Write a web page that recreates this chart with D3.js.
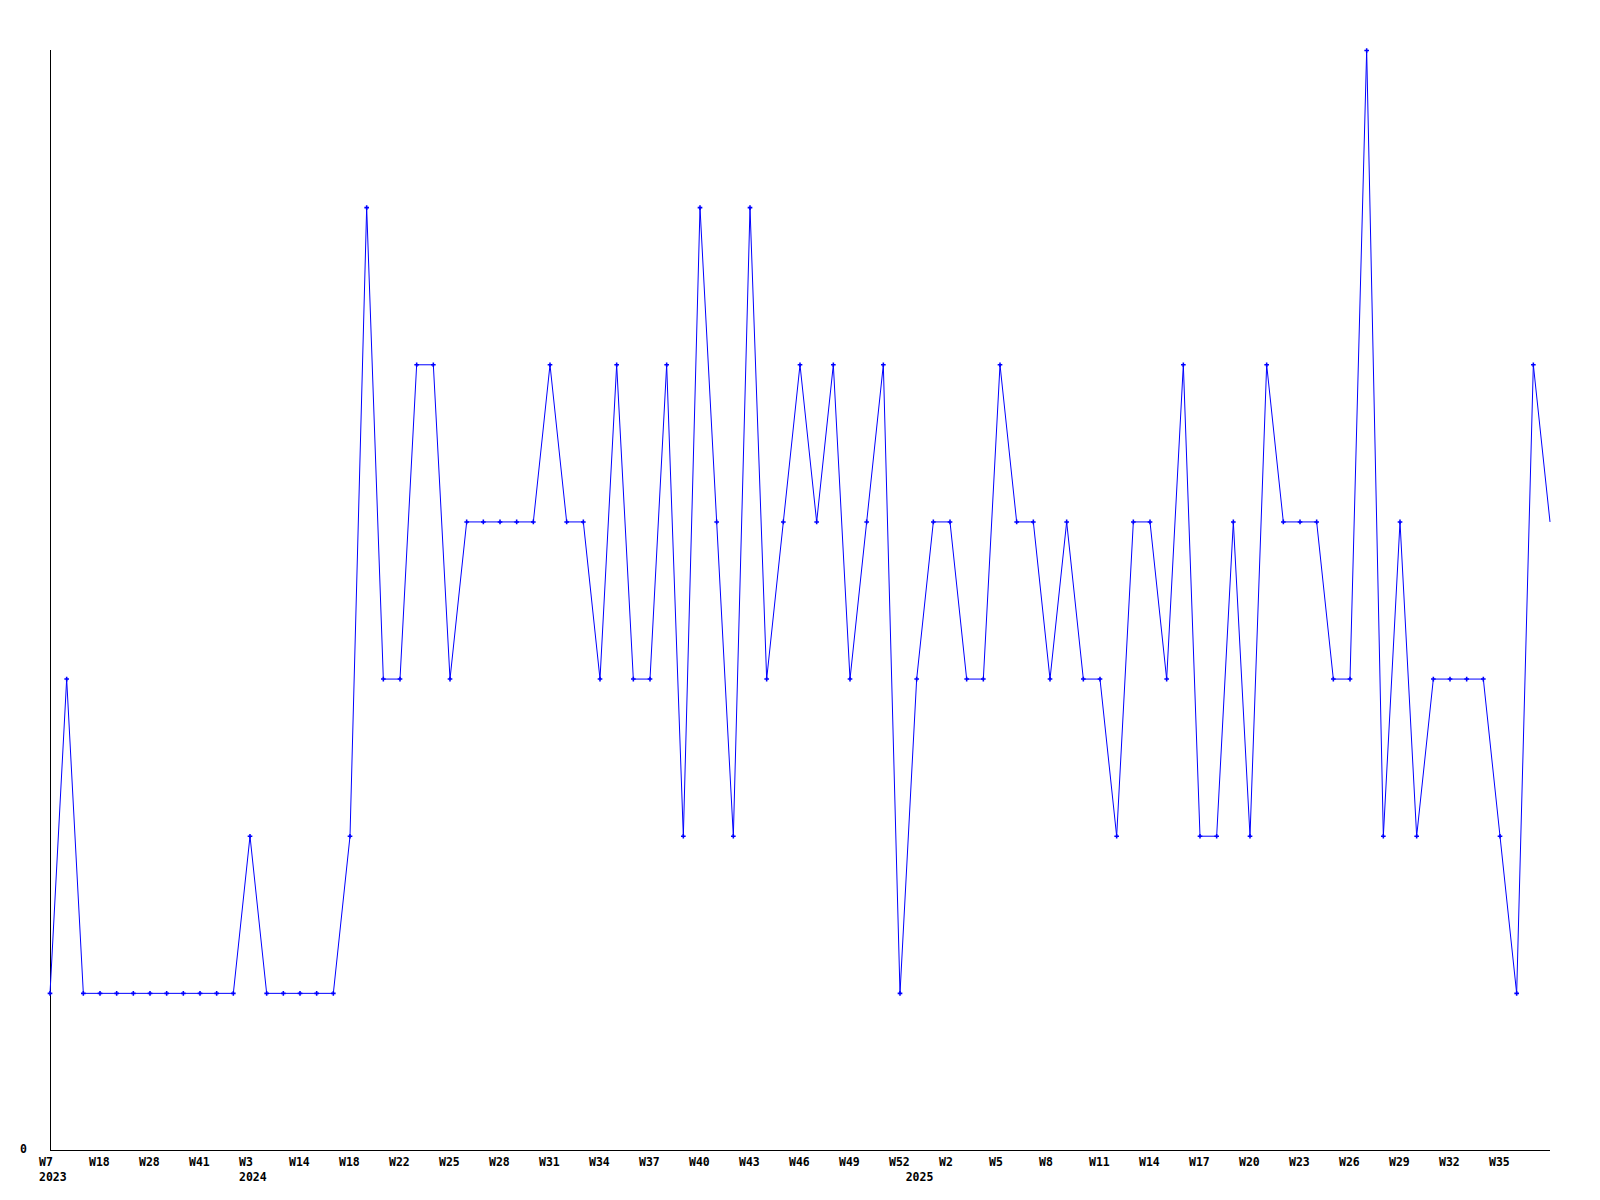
<!DOCTYPE html>
<html>
<head>
<meta charset="utf-8">
<script src="https://cdn.jsdelivr.net/npm/d3@7"></script>
<style>
  body { margin: 0; background: #fff; }
  text { font-family: "DejaVu Sans Mono", monospace; font-weight: bold; font-size: 11.5px; fill: #000; }
</style>
</head>
<body>
<div id="main"></div>
<script>
var ctx = {
    w: 1600,
    h: 1200,
    left: 50,
    right: 1550,
    top: 50,
    bottom: 1150,
};

// weekly counts, one per point
var values = [1, 3, 1, 1, 1, 1, 1, 1, 1, 1, 1, 1, 2, 1, 1, 1, 1, 1, 2, 6,
              3, 3, 5, 5, 3, 4, 4, 4, 4, 4, 5, 4, 4, 3, 5, 3, 3, 5, 2, 6,
              4, 2, 6, 3, 4, 5, 4, 5, 3, 4, 5, 1, 3, 4, 4, 3, 3, 5, 4, 4,
              3, 4, 3, 3, 2, 4, 4, 3, 5, 2, 2, 4, 2, 5, 4, 4, 4, 3, 3, 7,
              2, 4, 2, 3, 3, 3, 3, 2, 1, 5, 4];

// week labels (every third point)
var weekTickIdx = [0, 3, 6, 9, 12, 15, 18, 21, 24, 27, 30, 33, 36, 39, 42, 45, 48, 51,
                   54, 57, 60, 63, 66, 69, 72, 75, 78, 81, 84, 87];
var weekTickLabels = ["W7", "W18", "W28", "W41", "W3", "W14", "W18", "W22", "W25", "W28",
                      "W31", "W34", "W37", "W40", "W43", "W46", "W49", "W52", "W2", "W5",
                      "W8", "W11", "W14", "W17", "W20", "W23", "W26", "W29", "W32", "W35"];

// year labels under the first week of each year
var yearIdx = [0, 12, 52];
var yearLabels = ["2023", "2024", "2025"];

var yMax = 7;

var createViz = function(){
    var svg = d3.select("#main").append("svg")
        .attr("width", ctx.w)
        .attr("height", ctx.h);

    var x = d3.scalePoint()
        .domain(d3.range(values.length))
        .range([ctx.left, ctx.right]);
    var y = d3.scaleLinear()
        .domain([0, yMax])
        .range([ctx.bottom, ctx.top]);

    // axes lines
    svg.append("line")
        .attr("x1", ctx.left + 0.5).attr("x2", ctx.left + 0.5)
        .attr("y1", y(yMax)).attr("y2", y(0))
        .style("stroke", "#000").style("stroke-width", 1);
    svg.append("line")
        .attr("x1", ctx.left).attr("x2", ctx.right)
        .attr("y1", y(0) + 0.5).attr("y2", y(0) + 0.5)
        .style("stroke", "#000").style("stroke-width", 1);

    svg.append("text")
        .attr("x", 20).attr("y", y(0) + 3)
        .text("0");

    // labels start a bit left of their point
    svg.append("g").selectAll("text")
        .data(weekTickIdx)
        .enter()
        .append("text")
        .attr("x", function(d){ return x(d) - 11; })
        .attr("y", y(0) + 16)
        .text(function(d, i){ return weekTickLabels[i]; });

    svg.append("g").selectAll("text")
        .data(yearIdx)
        .enter()
        .append("text")
        .attr("x", function(d){ return x(d) - 11; })
        .attr("y", y(0) + 31)
        .text(function(d, i){ return yearLabels[i]; });

    var line = d3.line()
        .x(function(d, i){ return x(i); })
        .y(function(d){ return y(d) + 0.5; });

    svg.append("path")
        .datum(values)
        .attr("d", line)
        .style("fill", "none")
        .style("stroke", "#0000ff")
        .style("stroke-width", 1);

    // small cross markers (last point has none)
    var cross = d3.symbol().type(d3.symbolCross).size(12);
    svg.append("g").selectAll("path")
        .data(values.slice(0, values.length - 1))
        .enter()
        .append("path")
        .attr("d", cross)
        .attr("transform", function(d, i){ return "translate(" + x(i) + "," + (y(d) + 0.5) + ")"; })
        .style("fill", "#0000ff");
};

createViz();
</script>
</body>
</html>
